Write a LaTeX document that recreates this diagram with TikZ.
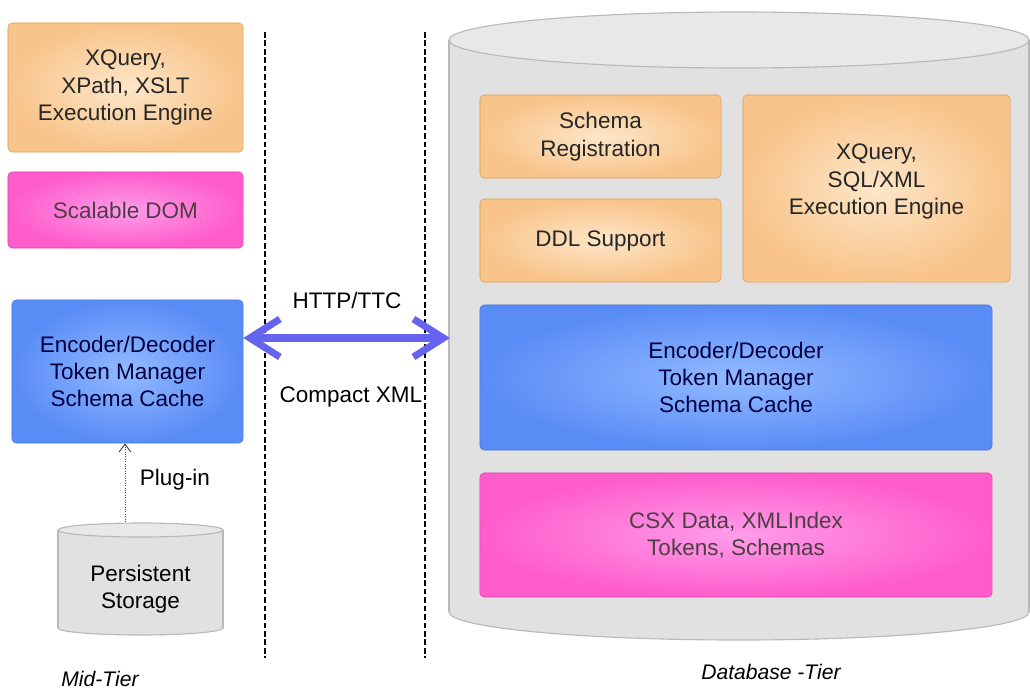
\documentclass[tikz,border=0pt]{standalone}
\usepackage{fontspec}
\setmainfont{Liberation Sans}
\usetikzlibrary{arrows.meta}

\definecolor{engfill}{HTML}{F8C48A}
\definecolor{engin}{HTML}{FDE6C8}
\definecolor{engline}{HTML}{D99A52}
\definecolor{domfill}{HTML}{FF5CCB}
\definecolor{domin}{HTML}{FF9DEA}
\definecolor{domline}{HTML}{E03CB0}
\definecolor{codfill}{HTML}{5A8CF6}
\definecolor{codin}{HTML}{92BAFF}
\definecolor{codline}{HTML}{4A74DA}
\definecolor{cylfill}{HTML}{E1E1E1}
\definecolor{cyltop}{HTML}{E8E8E8}
\definecolor{cylline}{HTML}{B9B9B9}
\definecolor{wirecol}{HTML}{6464EE}

\begin{document}
\begin{tikzpicture}[
  x=0.025cm,y=-0.025cm,
  every node/.style={font=\fontsize{16}{19.5}\selectfont,align=center},
  engine/.style={rectangle,rounded corners=3pt,draw=engline,inner color=engin,outer color=engfill,text=black!85},
  dombox/.style={rectangle,rounded corners=3pt,draw=domline,inner color=domin,outer color=domfill,text=black!80!magenta},
  codec/.style={rectangle,rounded corners=3pt,draw=codline,inner color=codin,outer color=codfill,text=blue!25!black},
  tierline/.style={black,line width=0.9pt,dash pattern=on 4pt off 2pt},
  tiername/.style={font=\fontsize{15}{18}\selectfont\itshape}
]
\useasboundingbox (0,0) rectangle (1030,692);

% tier borders
\draw[tierline] (265,32) -- (265,658);
\draw[tierline] (425,32) -- (425,658);

% database cylinder
\filldraw[fill=cylfill,draw=cylline,line width=0.8pt] (739,612) ellipse [x radius=290,y radius=28];
\fill[cylfill] (449,40) rectangle (1029,612);
\draw[cylline,line width=0.8pt] (449,40) -- (449,612) (1029,40) -- (1029,612);
\filldraw[fill=cyltop,draw=cylline,line width=0.8pt] (739,40) ellipse [x radius=290,y radius=28];
\coordinate (dbedge) at (450,338);

% storage cylinder
\filldraw[fill=cylfill,draw=cylline,line width=0.8pt] (140.5,628) ellipse [x radius=82.5,y radius=7];
\fill[cylfill] (58,530) rectangle (223,628);
\draw[cylline,line width=0.8pt] (58,530) -- (58,628) (223,530) -- (223,628);
\filldraw[fill=cyltop,draw=cylline,line width=0.8pt] (140.5,530) ellipse [x radius=82.5,y radius=7];
\coordinate (stortop) at (125,522);
\node (stor) at (140.5,589) {Persistent\\Storage};

% mid tier
\node[engine,minimum width=5.875cm,minimum height=3.225cm] (xqmid) at (125.5,87.5) {XQuery,\\XPath, XSLT\\Execution Engine};
\node[dombox,minimum width=5.875cm,minimum height=1.9cm] (dom) at (125.5,210) {Scalable DOM};
\node[codec,minimum width=5.775cm,minimum height=3.575cm] (encmid) at (127.5,371.5) {Encoder/Decoder\\Token Manager\\Schema Cache};

% database tier
\node[engine,minimum width=6.025cm,minimum height=2.075cm] (schreg) at (600.5,136.5) {Schema\\Registration};
\node[engine,minimum width=6.025cm,minimum height=2.075cm] (ddl) at (600.5,240.5) {DDL Support};
\node[engine,minimum width=6.675cm,minimum height=4.675cm,text depth=0.45cm] (xqdb) at (876.5,188.5) {XQuery,\\SQL/XML\\Execution Engine};
\node[codec,minimum width=12.8cm,minimum height=3.625cm] (encdb) at (736,377.5) {Encoder/Decoder\\Token Manager\\Schema Cache};
\node[dombox,minimum width=12.8cm,minimum height=3.1cm] (csx) at (736,535) {CSX Data, XMLIndex\\Tokens, Schemas};

% links
\draw[wirecol,line width=5pt,{Straight Barb[length=0.75cm,width=0.95cm]}-{Straight Barb[length=0.75cm,width=0.95cm]}] (encmid.east |- dbedge) -- (dbedge);
\node (http) at (347,300) {HTTP/TTC};
\node (cxml) at (351,397) {Compact XML};

\draw[black!70,densely dotted,line width=0.7pt,-{Straight Barb[length=0.2cm,width=0.3cm]}] (stortop) -- (stortop |- encmid.south);
\node (plug) at (175,480) {Plug-in};

\node[tiername] (midtier) at (100,679) {Mid-Tier};
\node[tiername] (dbtier) at (771,672) {Database -Tier};

\end{tikzpicture}
\end{document}
